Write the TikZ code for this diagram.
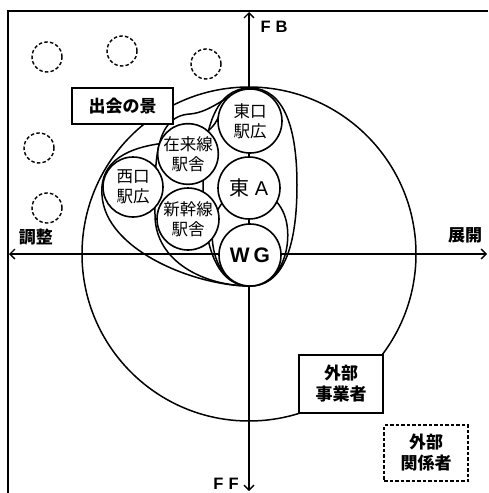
\documentclass[tikz,border=0pt]{standalone}
\usepackage{fontspec}
\setmainfont{Liberation Sans}
\newfontfamily\jp{Noto Sans CJK JP}
\usetikzlibrary{arrows.meta}
\begin{document}
\begin{tikzpicture}[x=1pt,y=-1pt,
  ln/.style={line width=1.5pt},
  cnode/.style={circle,draw,line width=1.6pt,fill=white,inner sep=0pt,align=center,font=\jp\fontsize{16.5}{20}\selectfont},
  dcirc/.style={draw,dash pattern=on 3.5pt off 2.2pt,line width=1.4pt},
  box/.style={draw,fill=white,line width=1.4pt,inner sep=0pt,align=center,font=\jp\bfseries\fontsize{17}{21}\selectfont},
  lbl/.style={font=\jp\bfseries\fontsize{17}{20}\selectfont},
  axl/.style={font=\fontspec{Liberation Sans Bold}\fontsize{16.5}{16}\selectfont},
  axis/.style={line width=1.3pt,{Straight Barb[length=5pt,width=10pt]}-{Straight Barb[length=5pt,width=10pt]}}]
\useasboundingbox (0,0) rectangle (488,493);
% frame
\draw[line width=1.4pt] (8,493) -- (8,11) -- (488,11);
% dashed circles
\node[dcirc,circle,minimum size=30pt,inner sep=0pt] (d1) at (47,57) {};
\node[dcirc,circle,minimum size=30pt,inner sep=0pt] (d2) at (122,51) {};
\node[dcirc,circle,minimum size=30pt,inner sep=0pt] (d3) at (206,64) {};
\node[dcirc,circle,minimum size=30pt,inner sep=0pt] (d4) at (39,148) {};
\node[dcirc,circle,minimum size=30pt,inner sep=0pt] (d5) at (47,208) {};
% big circle
\node[circle,draw,line width=1.5pt,minimum size=334pt,inner sep=0pt] (big) at (249,254) {};
% loops
\coordinate (P) at (250,286);
\coordinate (T) at (250,88);
\draw[ln] (P) .. controls (286,286) and (297,240) .. (297,185)
  .. controls (297,130) and (285,88) .. (T)
  .. controls (215,88) and (203,130) .. (203,185)
  .. controls (203,240) and (214,286) .. (P);
\draw[ln] (P) .. controls (205,286) and (155,262) .. (155,215)
  .. controls (155,170) and (152,116) .. (190,114)
  .. controls (212,112) and (225,95) .. (T);
\draw[ln] (P) .. controls (195,286) and (105,250) .. (102,195)
  .. controls (99,160) and (130,147) .. (165,143)
  .. controls (195,140) and (210,135) .. (218,118)
  .. controls (225,100) and (235,88) .. (T);
\draw[ln] (P) .. controls (280,286) and (291,250) .. (287,225)
  .. controls (284,205) and (270,190) .. (249,188);
\draw[ln] (P) .. controls (220,286) and (209,250) .. (213,225)
  .. controls (216,205) and (230,190) .. (249,188);
% axes
\coordinate (xl) at (9,254);
\coordinate (xr) at (487,254);
\coordinate (yt) at (249,12);
\coordinate (yb) at (249,491);
\draw[axis] (xl) -- (xr);
\draw[axis] (yb) -- (yt);
% circles
\node[cnode,minimum size=64pt] (higashiguchi) at (250,121) {東口\\駅広};
\node[cnode,minimum size=62pt,font=\jp\fontsize{20}{20}\selectfont] (higashiA) at (249,188) {東\hspace{5pt}\fontspec{Liberation Sans}A};
\node[cnode,minimum size=62pt,font=\fontspec{Liberation Sans Bold}\fontsize{21}{21}\selectfont] (wg) at (250,255) {W\hspace{4pt}G};
\node[cnode,minimum size=60pt] (zairai) at (188,154) {在来線\\駅舎};
\node[cnode,minimum size=62pt] (shinkan) at (188,219) {新幹線\\駅舎};
\node[cnode,minimum size=60pt] (nishi) at (133,187) {西口\\駅広};
% boxes
\node[box,minimum width=101pt,minimum height=36pt] (deai) at (122.5,106) {出会の景};
\node[box,minimum width=84pt,minimum height=58pt] (gaibu1) at (341,384) {外部\\事業者};
\node[box,dash pattern=on 3.5pt off 2pt,minimum width=84pt,minimum height=56pt] (gaibu2) at (426,453) {外部\\関係者};
% axis labels
\node[axl] (fb) at (274,27) {F\hspace{5pt}B};
\node[axl] (ff) at (226,484) {F\hspace{5pt}F};
\node[lbl] (chosei) at (36,237) {調整};
\node[lbl] (tenkai) at (465,235) {展開};
\end{tikzpicture}
\end{document}
